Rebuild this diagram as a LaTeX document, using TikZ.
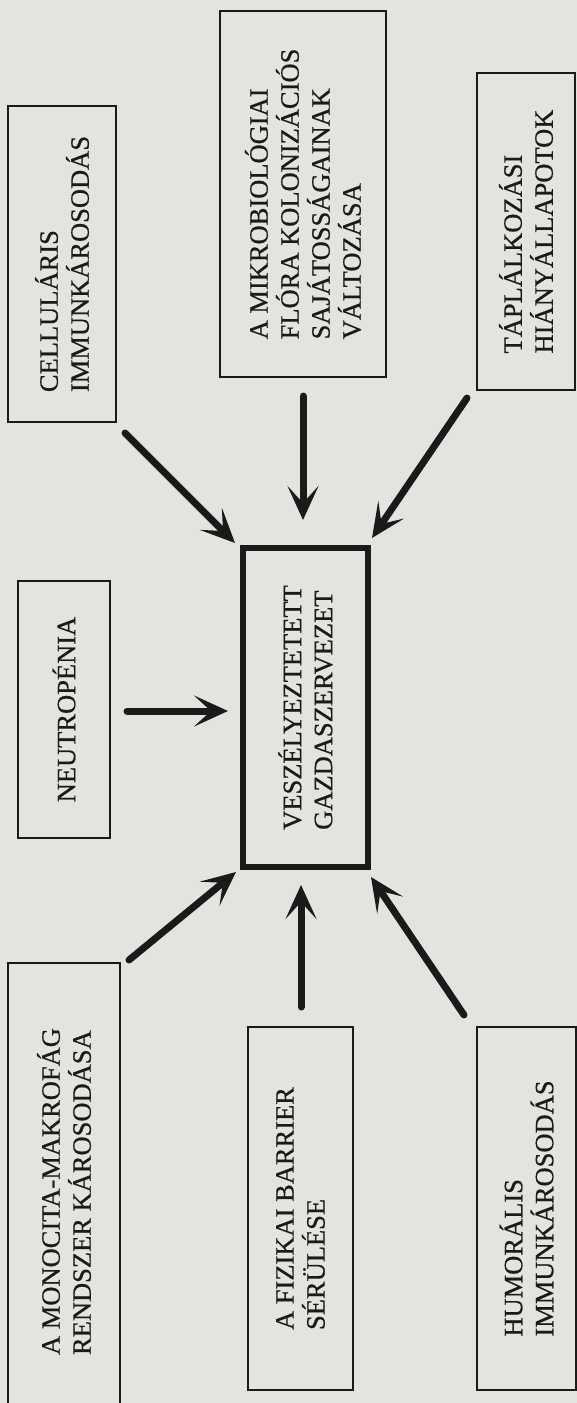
\documentclass[tikz,border=0pt]{standalone}
\usepackage{fontspec}
\setmainfont[FakeBold=0.6]{Liberation Serif}
\usetikzlibrary{arrows.meta}
\definecolor{paper}{RGB}{227,227,223}
\definecolor{ink}{RGB}{26,26,26}

\begin{document}
\begin{tikzpicture}[x=1pt,y=-1pt,
  factor/.style={draw=ink, line width=2.8pt, rotate=90, align=left,
    inner sep=0pt, text=ink, font=\fontsize{26.5}{31}\selectfont},
  core/.style={factor, line width=5.5pt},
  push/.style={draw=ink, line width=7pt, line cap=round,
    -{Stealth[length=34pt,width=31pt,inset=17pt]}}]

% paper and page frame
\clip (0,0) rectangle (577,1403);
\fill[paper] (0,0) rectangle (577,1403);

% the host organism in the middle
\node[core, minimum width=319pt, minimum height=125pt] (host) at (305.5,707.5)
  {VESZÉLYEZTETETT\\GAZDASZERVEZET};

% risk factors around it
\node[factor, minimum width=366pt, minimum height=166pt] (flora) at (303,194)
  {A MIKROBIOLÓGIAI\\FLÓRA KOLONIZÁCIÓS\\SAJÁTOSSÁGAINAK\\VÁLTOZÁSA};
\node[factor, minimum width=316pt, minimum height=108pt] (cell) at (62,264)
  {CELLULÁRIS\\IMMUNKÁROSODÁS};
\node[factor, minimum width=317pt, minimum height=98pt] (diet) at (526,231.5)
  {TÁPLÁLKOZÁSI\\HIÁNYÁLLAPOTOK};
\node[factor, minimum width=257pt, minimum height=92pt] (neutro) at (64,709.5)
  {NEUTROPÉNIA};
\node[factor, minimum width=457pt, minimum height=112pt] (mono) at (64,1191.5)
  {A MONOCITA-MAKROFÁG\\RENDSZER KÁROSODÁSA};
\node[factor, minimum width=363pt, minimum height=105pt] (barrier) at (300.5,1208.5)
  {A FIZIKAI BARRIER\\SÉRÜLÉSE};
\node[factor, minimum width=363pt, minimum height=99pt] (humor) at (526.5,1208.5)
  {HUMORÁLIS\\IMMUNKÁROSODÁS};

% arrow end points
\coordinate (cellA) at (125,433);    \coordinate (cellB) at (235,543);
\coordinate (floraA) at (303,396);   \coordinate (floraB) at (303,520);
\coordinate (dietA) at (467,398);    \coordinate (dietB) at (372,538);
\coordinate (neutroA) at (127,711);  \coordinate (neutroB) at (228,711);
\coordinate (monoA) at (129,960);    \coordinate (monoB) at (236,872);
\coordinate (barrierA) at (301,1007);\coordinate (barrierB) at (301,885);
\coordinate (humorA) at (464,1015);  \coordinate (humorB) at (371,877);

% arrows pointing at the host
\draw[push] (cellA) -- (cellB);
\draw[push] (floraA) -- (floraB);
\draw[push] (dietA) -- (dietB);
\draw[push] (neutroA) -- (neutroB);
\draw[push] (monoA) -- (monoB);
\draw[push] (barrierA) -- (barrierB);
\draw[push] (humorA) -- (humorB);
\end{tikzpicture}
\end{document}
